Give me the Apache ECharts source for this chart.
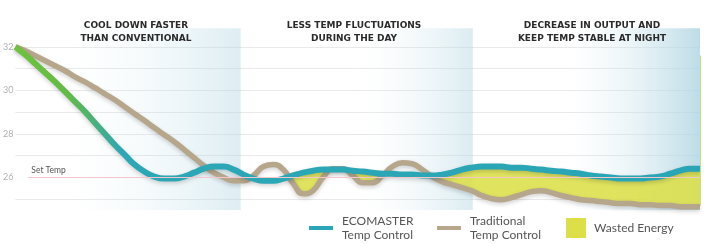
<!DOCTYPE html>
<html><head><meta charset="utf-8">
<script src="https://cdn.jsdelivr.net/npm/echarts@6/dist/echarts.min.js"></script>
<style>html,body{margin:0;padding:0;background:#fff}#c{width:713px;height:244px}</style>
</head><body><div id="c"></div>
<script>
// Temperatures (°C) sampled at equal time steps across the day
const ecomaster = [
  32.00, 31.63, 31.22, 30.81, 30.39, 29.94, 29.48, 29.02, 28.51, 28.01,
  27.50, 27.05, 26.59, 26.27, 26.04, 25.95, 25.95, 26.04, 26.22, 26.40,
  26.50, 26.50, 26.36, 26.13, 25.95, 25.85, 25.85, 25.95, 26.09, 26.22,
  26.31, 26.36, 26.36, 26.36, 26.31, 26.27, 26.22, 26.17, 26.17, 26.13,
  26.13, 26.09, 26.09, 26.13, 26.22, 26.36, 26.45, 26.50, 26.50, 26.50,
  26.45, 26.45, 26.40, 26.36, 26.31, 26.27, 26.22, 26.17, 26.09, 26.04,
  26.00, 25.95, 25.95, 25.95, 26.00, 26.04, 26.17, 26.31, 26.40, 26.40
];
const traditional = [
  32.00, 31.82, 31.59, 31.36, 31.13, 30.90, 30.62, 30.39, 30.12, 29.84,
  29.57, 29.25, 28.93, 28.61, 28.28, 27.96, 27.64, 27.28, 26.91, 26.54,
  26.22, 26.00, 25.85, 25.85, 26.09, 26.50, 26.59, 26.36, 25.72, 25.25,
  25.40, 26.00, 26.40, 26.40, 26.09, 25.76, 25.76, 26.09, 26.50, 26.68,
  26.63, 26.36, 26.04, 25.81, 25.67, 25.53, 25.39, 25.17, 25.03, 24.98,
  25.07, 25.21, 25.35, 25.39, 25.30, 25.17, 25.07, 24.98, 24.94, 24.89,
  24.84, 24.80, 24.80, 24.75, 24.75, 24.71, 24.71, 24.66, 24.66, 24.66
];
const yTickLabels = [26, 28, 30, 32];
const setTemp = 26;
const cooldownEndStep = 24;
const phaseTitles = [
  'COOL DOWN FASTER\nTHAN CONVENTIONAL',
  'LESS TEMP FLUCTUATIONS\nDURING THE DAY',
  'DECREASE IN OUTPUT AND\nKEEP TEMP STABLE AT NIGHT'
];
const phaseSpans = [[5.5, 22.7], [35.2, 46.1], [55.9, 69]];
const seriesNames = ['ECOMASTER\nTemp Control', 'Traditional\nTemp Control', 'Wasted Energy'];

const chart = echarts.init(document.getElementById('c'));
const steps = ecomaster.map((_, i) => String(i));
const wasted = ecomaster.map((v, i) =>
  i < cooldownEndStep ? 0 : Math.max(0, +(v - traditional[i]).toFixed(3)));
const lastStep = ecomaster.length - 1;

const panelAlpha = [0.42, 0.45, 0.82];
const panelGradient = a => new echarts.graphic.LinearGradient(0, 0, 1, 0, [
  { offset: 0, color: 'rgba(214,234,241,0)' },
  { offset: 0.4, color: 'rgba(200,226,235,' + (a * 0.35) + ')' },
  { offset: 1, color: 'rgba(175,213,226,' + a + ')' }
]);
const tealGradient = new echarts.graphic.LinearGradient(0, 0, 1, 0, [
  { offset: 0, color: '#6fc23c' },
  { offset: 0.08, color: '#62bc45' },
  { offset: 0.16, color: '#2ca7b6' },
  { offset: 1, color: '#2aa5b5' }
]);
const gridColors = ['rgba(0,0,0,0)', '#e9e9e9', 'rgba(0,0,0,0)', '#e9e9e9', '#e9e9e9',
  '#e9e9e9', '#e9e9e9', '#e9e9e9', '#e9e9e9', 'rgba(0,0,0,0)'];
const legendText = { fontFamily: 'Lato', fontSize: 12, lineHeight: 14, color: '#555', padding: [0, 0, 0, 4] };
const shadow = { shadowColor: 'rgba(0,0,0,0.18)', shadowBlur: 4, shadowOffsetY: 2 };

chart.setOption({
  animation: false,
  backgroundColor: '#fff',
  grid: { left: 15, right: 13, top: 25, bottom: 23 },
  xAxis: [
    { type: 'category', data: steps, boundaryGap: false, show: false },
    { type: 'value', min: 0, max: lastStep, show: false }
  ],
  yAxis: {
    type: 'value', min: 24, max: 33, interval: 1,
    axisLine: { show: false }, axisTick: { show: false },
    axisLabel: {
      formatter: v => yTickLabels.includes(v) ? String(v) : '',
      color: '#b0b0b0', fontSize: 9, margin: 2, fontFamily: 'Lato'
    },
    splitLine: { lineStyle: { color: gridColors, width: 1 } }
  },
  legend: [
    { left: 304, top: 209, itemWidth: 24, itemHeight: 4, icon: 'rect', selectedMode: false,
      data: [{ name: seriesNames[0], itemStyle: { color: '#2aa5b5' } }], textStyle: legendText },
    { left: 432, top: 209, itemWidth: 24, itemHeight: 4, icon: 'rect', selectedMode: false,
      data: [{ name: seriesNames[1], itemStyle: { color: '#b5a68c' } }], textStyle: legendText },
    { left: 561, top: 213, itemWidth: 20, itemHeight: 20, icon: 'rect', selectedMode: false,
      data: [{ name: seriesNames[2], itemStyle: { color: '#dcdf48' } }],
      textStyle: Object.assign({}, legendText, { padding: [0, 0, 0, 3] }) }
  ],
  graphic: phaseTitles.map((t, i) => ({
    type: 'text', x: [136, 354, 592][i], y: 19, silent: true, z: 100,
    style: { text: t, textAlign: 'center', textVerticalAlign: 'top', fill: '#2b2b2b',
      font: 'bold 9px "DejaVu Sans"', lineHeight: 13 }
  })),
  series: [
    { type: 'line', name: '_panels', xAxisIndex: 1, data: ecomaster.map((v, i) => [i, v]),
      symbol: 'none', silent: true, z: 1, lineStyle: { opacity: 0 },
      markArea: { silent: true,
        data: phaseSpans.map(([a, b], k) => [
          { xAxis: a, yAxis: 24.5, itemStyle: { color: panelGradient(panelAlpha[k]) } },
          { xAxis: b, yAxis: 32.85 }]) },
      markLine: { silent: true, symbol: 'none',
        lineStyle: { color: '#f3c6cb', width: 1, type: 'solid' },
        label: { show: true, formatter: 'Set Temp', position: 'insideStartTop', color: '#555',
          fontSize: 8.5, fontFamily: 'Lato', distance: 3 },
        data: [
          [{ coord: [1.3, setTemp] }, { coord: [lastStep, setTemp] }],
          [{ coord: [lastStep, 24.7], lineStyle: { color: '#c4de8c', width: 1 }, label: { show: false } },
           { coord: [lastStep, 31.6] }]
        ] } },
    { type: 'line', name: '_base', stack: 'w', data: traditional, symbol: 'none', smooth: true,
      silent: true, lineStyle: { opacity: 0 }, z: 2 },
    { type: 'line', name: seriesNames[2], stack: 'w', data: wasted, symbol: 'none', smooth: true,
      silent: true, lineStyle: { width: 0 }, itemStyle: { color: '#dcdf48' },
      areaStyle: { color: '#dcdf48', opacity: 0.88 }, z: 2 },
    { type: 'line', name: seriesNames[1], data: traditional, symbol: 'none', smooth: true,
      itemStyle: { color: '#b5a68c' },
      lineStyle: Object.assign({ color: '#b5a68c', width: 5.5 }, shadow), z: 3 },
    { type: 'line', name: seriesNames[0], data: ecomaster, symbol: 'none', smooth: true,
      itemStyle: { color: '#2aa5b5' },
      lineStyle: Object.assign({ color: tealGradient, width: 6 }, shadow), z: 4 }
  ]
});
</script>
</body></html>
